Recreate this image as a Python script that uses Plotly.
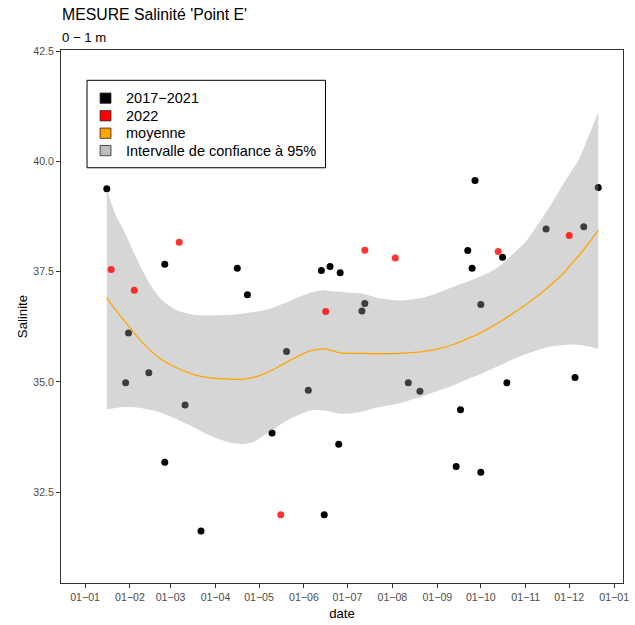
import plotly.graph_objects as go

# ---- data (dates mapped onto a single year, 2022) ----
hist_dates = ["2022-01-16", "2022-02-25", "2022-04-16", "2022-04-23", "2022-06-13", "2022-06-19",
              "2022-06-26", "2022-01-31", "2022-01-29", "2022-02-14", "2022-03-11", "2022-05-20",
              "2022-06-04", "2022-05-10", "2022-06-25", "2022-02-25", "2022-03-22", "2022-06-15",
              "2022-09-14", "2022-10-01", "2022-09-27", "2022-12-21", "2022-11-15", "2022-12-11",
              "2022-09-22", "2022-10-16", "2022-09-25", "2022-07-13", "2022-07-11", "2022-10-01",
              "2022-08-12", "2022-08-20", "2022-10-19", "2022-12-05", "2022-09-17"]
hist_vals = [39.38, 37.67, 37.58, 36.98, 37.53, 37.62,
             37.48, 36.11, 34.98, 35.21, 34.48, 35.69,
             34.81, 33.84, 33.59, 33.18, 31.62, 31.99,
             33.08, 32.95, 39.57, 39.41, 38.47, 38.52,
             37.98, 37.83, 37.58, 36.78, 36.61, 36.76,
             34.98, 34.79, 34.98, 35.10, 34.37]

y2022_dates = ["2022-01-19", "2022-03-07", "2022-02-04", "2022-06-16", "2022-05-16",
               "2022-07-13", "2022-08-03", "2022-10-13", "2022-12-01"]
y2022_vals = [37.55, 38.17, 37.08, 36.60, 31.99, 37.99, 37.81, 37.96, 38.32]

smooth_dates = ["2022-01-16", "2022-01-22", "2022-01-29", "2022-02-10", "2022-02-21", "2022-03-04",
                "2022-03-16", "2022-03-27", "2022-04-08", "2022-04-19", "2022-04-28", "2022-05-05",
                "2022-05-12", "2022-05-18", "2022-05-23", "2022-06-01", "2022-06-06", "2022-06-15",
                "2022-06-20", "2022-06-26", "2022-07-01", "2022-07-10", "2022-07-23", "2022-08-06",
                "2022-08-24", "2022-09-05", "2022-09-12", "2022-09-23", "2022-09-28", "2022-10-09",
                "2022-10-16", "2022-10-27", "2022-11-01", "2022-11-14", "2022-11-19", "2022-11-28",
                "2022-12-02", "2022-12-08", "2022-12-14", "2022-12-21"]
smooth_mean = [36.91, 36.64, 36.35, 35.88, 35.55, 35.34,
               35.18, 35.10, 35.07, 35.06, 35.11, 35.19,
               35.30, 35.41, 35.50, 35.65, 35.71, 35.75,
               35.71, 35.66, 35.65, 35.65, 35.64, 35.65,
               35.70, 35.78, 35.85, 36.00, 36.07, 36.26,
               36.40, 36.64, 36.75, 37.08, 37.22, 37.50,
               37.66, 37.88, 38.13, 38.44]
smooth_upper = [39.36, 38.80, 38.35, 37.50, 36.93, 36.65,
                36.53, 36.51, 36.52, 36.55, 36.59, 36.63,
                36.70, 36.78, 36.85, 36.97, 37.03, 37.08,
                37.06, 37.05, 37.03, 37.01, 36.90, 36.85,
                36.93, 37.07, 37.16, 37.29, 37.35, 37.52,
                37.69, 38.02, 38.18, 38.80, 39.06, 39.55,
                39.75, 40.07, 40.55, 41.12]
smooth_lower = [34.38, 34.41, 34.43, 34.40, 34.32, 34.17,
                33.99, 33.80, 33.65, 33.59, 33.65, 33.80,
                33.95, 34.08, 34.17, 34.30, 34.36, 34.35,
                34.32, 34.28, 34.28, 34.32, 34.43, 34.52,
                34.70, 34.84, 34.92, 35.08, 35.14, 35.30,
                35.40, 35.57, 35.63, 35.77, 35.81, 35.84,
                35.85, 35.84, 35.81, 35.75]

tick_dates = ["2022-01-01", "2022-02-01", "2022-03-01", "2022-04-01", "2022-05-01", "2022-06-01",
              "2022-07-01", "2022-08-01", "2022-09-01", "2022-10-01", "2022-11-01", "2022-12-01",
              "2023-01-01"]
tick_labels = ["01−01", "01−02", "01−03", "01−04", "01−05", "01−06",
               "01−07", "01−08", "01−09", "01−10", "01−11", "01−12", "01−01"]
y_ticks = [32.5, 35.0, 37.5, 40.0, 42.5]

legend_names = ["2017−2021", "2022", "moyenne", "Intervalle de confiance à 95%"]
legend_colors = ["#000000", "#FF0000", "#FFA500", "#BEBEBE"]

FONT = "Liberation Sans, Arial, Helvetica, sans-serif"

# plot-area geometry (pixels) used to place the hand-built legend box
L, R, T, B = 61, 629, 50, 590
W, H = R - L, B - T


def px(x):
    return (x - L) / W


def py(y):
    return (B - y) / H


fig = go.Figure()

# historical points (drawn under the ribbon)
fig.add_trace(go.Scatter(x=hist_dates, y=hist_vals, mode="markers", name="2017−2021",
                         marker=dict(color="black", size=7), showlegend=False, hoverinfo="skip"))
# confidence ribbon: lower bound then upper bound filled down to it
fig.add_trace(go.Scatter(x=smooth_dates, y=smooth_lower, mode="lines",
                         line=dict(width=0, shape="spline", smoothing=0.8),
                         showlegend=False, hoverinfo="skip"))
fig.add_trace(go.Scatter(x=smooth_dates, y=smooth_upper, mode="lines",
                         fill="tonexty", fillcolor="rgba(153,153,153,0.4)",
                         line=dict(width=0, shape="spline", smoothing=0.8),
                         name="Intervalle de confiance à 95%", showlegend=False, hoverinfo="skip"))
# mean line
fig.add_trace(go.Scatter(x=smooth_dates, y=smooth_mean, mode="lines", name="moyenne",
                         line=dict(color="#FFA500", width=1.3, shape="spline"),
                         showlegend=False, hoverinfo="skip"))
# 2022 points
fig.add_trace(go.Scatter(x=y2022_dates, y=y2022_vals, mode="markers", name="2022",
                         marker=dict(color="rgba(255,0,0,0.8)", size=7), showlegend=False,
                         hoverinfo="skip"))

# ---- legend box (ggplot style) ----
shapes = [dict(type="rect", xref="paper", yref="paper",
               x0=px(87.3), x1=px(328.3), y0=py(169.3), y1=py(80.7),
               line=dict(color="black", width=1), fillcolor="white", layer="above")]
annotations = []
row_centers = [98.8, 116.6, 134.3, 151.9]
for name, col, yc in zip(legend_names, legend_colors, row_centers):
    shapes.append(dict(type="rect", xref="paper", yref="paper",
                       x0=px(100.5), x1=px(111.5), y0=py(yc + 5.2), y1=py(yc - 5.2),
                       line=dict(color="#222222", width=0.8), fillcolor=col, layer="above"))
    annotations.append(dict(text=name, xref="paper", yref="paper",
                            x=px(124.5), y=py(yc), xanchor="left", yanchor="middle",
                            showarrow=False,
                            font=dict(size=14.5, family=FONT, color="black")))

annotations += [
    dict(text="MESURE Salinité 'Point E'", xref="paper", yref="paper",
         x=-0.0018, y=1.066, xanchor="left", yanchor="middle", showarrow=False,
         font=dict(size=15.8, family=FONT, color="black")),
    dict(text="0 − 1 m", xref="paper", yref="paper",
         x=-0.0018, y=1.024, xanchor="left", yanchor="middle", showarrow=False,
         font=dict(size=13.2, family=FONT, color="black")),
]

fig.update_layout(
    width=635, height=625,
    margin=dict(l=L, r=635 - R, t=T, b=625 - B),
    paper_bgcolor="white", plot_bgcolor="white",
    font=dict(family=FONT, color="black"),
    showlegend=False,
    shapes=shapes,
    annotations=annotations,
)

fig.update_xaxes(
    range=["2021-12-15 10:00", "2023-01-07 02:00"],
    tickmode="array", tickvals=tick_dates, ticktext=tick_labels,
    ticks="outside", ticklen=4, tickcolor="#333333", tickwidth=1,
    tickfont=dict(size=10.6, color="#4D4D4D", family=FONT),
    showline=True, linecolor="#333333", linewidth=1, mirror=True,
    showgrid=False, zeroline=False,
    title=dict(text="date", font=dict(size=13.2, family=FONT, color="black"), standoff=7),
)
fig.update_yaxes(
    range=[30.44, 42.53],
    tickmode="array", tickvals=y_ticks, ticktext=[f"{v:.1f}" for v in y_ticks],
    ticks="outside", ticklen=4, tickcolor="#333333", tickwidth=1,
    tickfont=dict(size=10.6, color="#4D4D4D", family=FONT),
    showline=True, linecolor="#333333", linewidth=1, mirror=True,
    showgrid=False, zeroline=False,
    title=dict(text="Salinite", font=dict(size=13.2, family=FONT, color="black"), standoff=2),
)

fig.write_html("out.html")
